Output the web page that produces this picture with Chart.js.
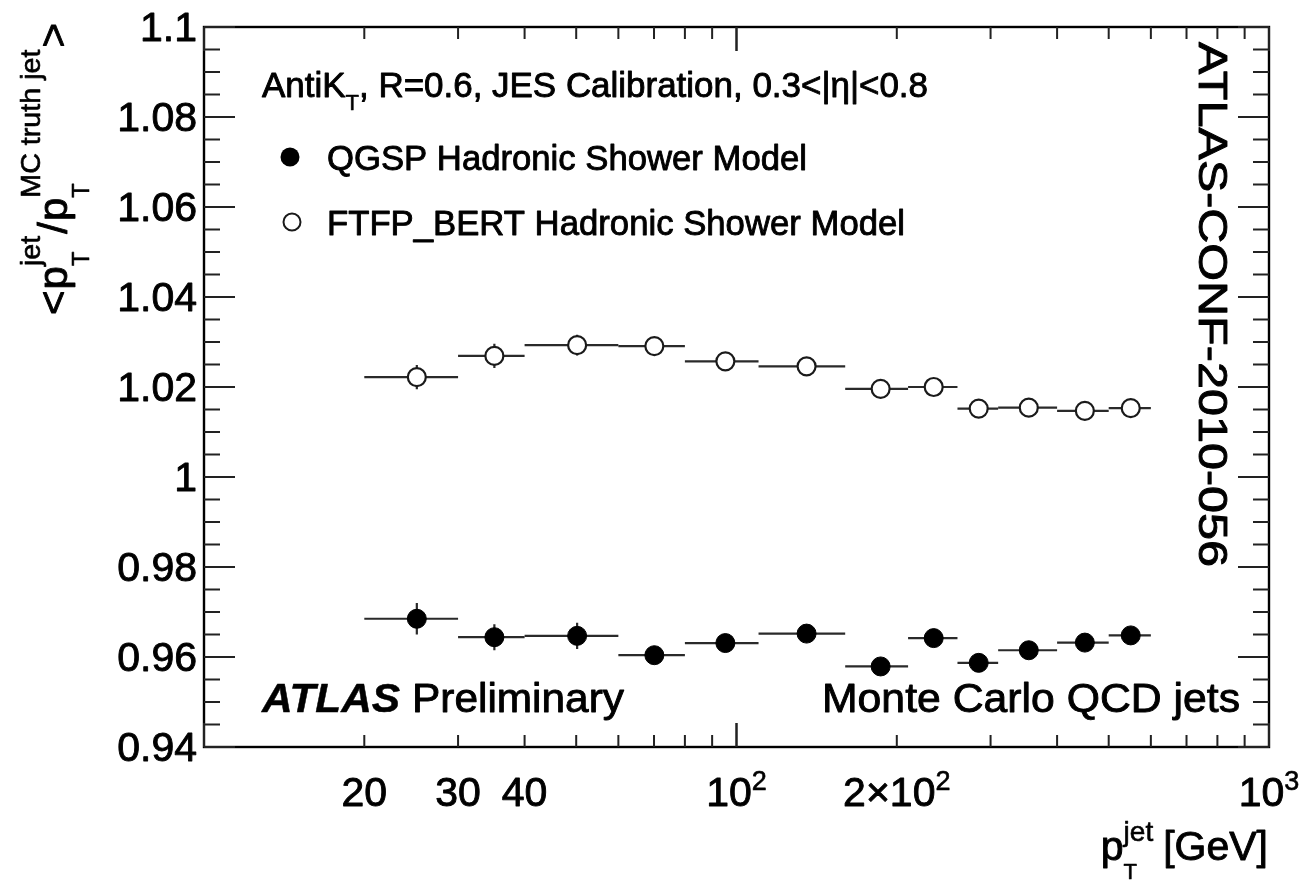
<!DOCTYPE html>
<html>
<head>
<meta charset="utf-8">
<script src="https://cdn.jsdelivr.net/npm/chart.js@4.4.1/dist/chart.umd.min.js"></script>
<style>
html,body{margin:0;padding:0;background:#fff;overflow:hidden}
#wrap{width:1303px;height:880px;position:relative}
</style>
</head>
<body>
<div id="wrap"><canvas id="c" width="1303" height="880"></canvas></div>
<script>
// ---- data ----
const binLow  = [20, 30, 40, 60, 80, 110, 160, 210, 260, 310, 400, 500];
const binHigh = [30, 40, 60, 80, 110, 160, 210, 260, 310, 400, 500, 600];
const ptMean  = [25.1, 35.1, 50.2, 70.1, 95.3, 135.4, 186.5, 234.6, 285, 353.9, 451, 550];
const qgsp    = [0.9685, 0.9644, 0.9647, 0.9604, 0.9631, 0.9652, 0.9579, 0.9642, 0.9587, 0.9615, 0.9632, 0.9648];
const qgspErr = [0.0035, 0.0029, 0.0029, 0.0015, 0.0015, 0.0012, 0.0012, 0.0012, 0.0012, 0.0012, 0.0012, 0.0012];
const ftfp    = [1.0222, 1.0269, 1.0293, 1.0291, 1.0257, 1.0246, 1.0196, 1.0200, 1.0152, 1.0154, 1.0147, 1.0153];
const ftfpErr = [0.0027, 0.0027, 0.0023, 0.0015, 0.0015, 0.0015, 0.0012, 0.0012, 0.0012, 0.0012, 0.0012, 0.0012];
const yTickValues = [0.94, 0.96, 0.98, 1.00, 1.02, 1.04, 1.06, 1.08, 1.10];
const yTickLabels = ['0.94', '0.96', '0.98', '1', '1.02', '1.04', '1.06', '1.08', '1.1'];
const xTickValues = [20, 30, 40, 100, 200, 1000];
const xTickBase   = ['20', '30', '40', '10', '2×10', '10'];
const xTickSup    = ['', '', '', '2', '2', '3'];
const seriesNames = ['QGSP Hadronic Shower Model', 'FTFP_BERT Hadronic Shower Model'];

const FAM = '"Liberation Sans", Arial, Helvetica, sans-serif';

function setFont(ctx, p) {
  ctx.font = `${p.style || 'normal'} ${p.weight || 'normal'} ${p.size}px ${FAM}`;
}
function richWidth(ctx, parts) {
  let w = 0, pend = 0;
  for (const p of parts) {
    setFont(ctx, p);
    const pw = ctx.measureText(p.t).width;
    if (p.hold) { pend = Math.max(pend, pw); }
    else { w += Math.max(pend, pw) + (p.gap || 0); pend = 0; }
  }
  return w;
}
// draws rich text; x,y = anchor baseline; opts: align, rot, targetW
function drawRich(ctx, parts, x, y, opts = {}) {
  const natural = richWidth(ctx, parts);
  const sx = opts.targetW ? opts.targetW / natural : 1;
  const total = natural * sx;
  ctx.save();
  ctx.translate(x, y);
  if (opts.rot) ctx.rotate(opts.rot);
  let off = 0;
  if (opts.align === 'right') off = -total;
  else if (opts.align === 'center') off = -total / 2;
  ctx.translate(off, 0);
  ctx.scale(sx, 1);
  ctx.fillStyle = '#000';
  ctx.strokeStyle = '#000';
  ctx.lineJoin = 'round';
  ctx.textAlign = 'left';
  ctx.textBaseline = 'alphabetic';
  let cx = 0, pend = 0;
  for (const p of parts) {
    setFont(ctx, p);
    const pw = ctx.measureText(p.t).width;
    ctx.fillText(p.t, cx, -(p.rise || 0));
    ctx.lineWidth = p.weight === 'bold' ? 0.5 : (p.size >= 30 ? 0.9 : 0.6);
    ctx.strokeText(p.t, cx, -(p.rise || 0));
    if (p.hold) { pend = Math.max(pend, pw); }
    else { cx += Math.max(pend, pw) + (p.gap || 0); pend = 0; }
  }
  ctx.restore();
}

const errPlugin = {
  id: 'errbars',
  beforeDatasetsDraw(chart) {
    const ctx = chart.ctx, xs = chart.scales.x, ys = chart.scales.y;
    ctx.save();
    ctx.strokeStyle = '#2a2a2a';
    ctx.lineWidth = 2.2;
    const sets = [[qgsp, qgspErr], [ftfp, ftfpErr]];
    for (const [vals, errs] of sets) {
      for (let i = 0; i < vals.length; i++) {
        const xl = xs.getPixelForValue(binLow[i]);
        const xh = xs.getPixelForValue(binHigh[i]);
        const xm = xs.getPixelForValue(ptMean[i]);
        const yv = ys.getPixelForValue(vals[i]);
        const y1 = ys.getPixelForValue(vals[i] + errs[i]);
        const y2 = ys.getPixelForValue(vals[i] - errs[i]);
        ctx.beginPath();
        ctx.moveTo(xl, yv); ctx.lineTo(xh, yv);
        ctx.moveTo(xm, y1); ctx.lineTo(xm, y2);
        ctx.stroke();
      }
    }
    ctx.restore();
  },
  afterDraw(chart) {
    const ctx = chart.ctx, xs = chart.scales.x, ys = chart.scales.y;
    const a = chart.chartArea;
    ctx.save();
    ctx.strokeStyle = '#000';
    ctx.lineWidth = 2.4;
    ctx.strokeRect(a.left, a.top, a.right - a.left, a.bottom - a.top);
    ctx.lineWidth = 2;
    ctx.strokeStyle = '#222';
    // y ticks (left and right)
    for (let k = 0; k <= 32; k++) {
      const v = 0.94 + k * 0.005;
      const yp = ys.getPixelForValue(v);
      const major = (k % 4 === 0);
      const L = major ? 31 : 16;
      ctx.beginPath();
      ctx.moveTo(a.left, yp); ctx.lineTo(a.left + L, yp);
      ctx.moveTo(a.right, yp); ctx.lineTo(a.right - L, yp);
      ctx.stroke();
    }
    // x ticks (bottom and top)
    for (const dec of [10, 100]) {
      for (let m = 1; m <= 10; m++) {
        const v = dec * m;
        const xp = xs.getPixelForValue(v);
        const major = (m === 1 || m === 10);
        const L = major ? 24 : 12;
        ctx.beginPath();
        ctx.moveTo(xp, a.bottom); ctx.lineTo(xp, a.bottom - L);
        ctx.moveTo(xp, a.top); ctx.lineTo(xp, a.top + L);
        ctx.stroke();
      }
    }
    // y tick labels
    for (let i = 0; i < yTickValues.length; i++) {
      const yp = ys.getPixelForValue(yTickValues[i]);
      drawRich(ctx, [{t: yTickLabels[i], size: 41}], 197, yp + 14, {align: 'right'});
    }
    // x tick labels
    for (let i = 0; i < xTickValues.length; i++) {
      const xp = xs.getPixelForValue(xTickValues[i]);
      const parts = [{t: xTickBase[i], size: 41}];
      if (xTickSup[i]) parts.push({t: xTickSup[i], size: 27, rise: 16});
      drawRich(ctx, parts, xp, 806, {align: 'center'});
    }
    // x axis title
    drawRich(ctx, [
      {t: 'p', size: 41},
      {t: 'T', size: 22, rise: -19, hold: true},
      {t: 'jet', size: 28, rise: 19, gap: 10},
      {t: '[GeV]', size: 41}
    ], 1268, 860, {align: 'right'});
    // y axis title (rotated, reading upward)
    drawRich(ctx, [
      {t: '<', size: 41, gap: 1},
      {t: 'p', size: 41},
      {t: 'T', size: 23, rise: -22, hold: true},
      {t: 'jet', size: 28, rise: 27, gap: 2},
      {t: '/', size: 41, gap: 1},
      {t: 'p', size: 41},
      {t: 'T', size: 23, rise: -22, hold: true},
      {t: 'MC truth jet', size: 28, rise: 27, gap: 2},
      {t: '>', size: 41}
    ], 67, 315, {rot: -Math.PI / 2, targetW: 292});
    // header line
    drawRich(ctx, [
      {t: 'AntiK', size: 35},
      {t: 'T', size: 22, rise: -13},
      {t: ', R=0.6, JES Calibration, 0.3<|η|<0.8', size: 35}
    ], 262, 97, {targetW: 666});
    // legend
    const legY = [157, 222];
    const legX = [290, 292];
    ctx.fillStyle = '#000';
    ctx.beginPath(); ctx.arc(legX[0], legY[0], 9.5, 0, Math.PI * 2); ctx.fill();
    ctx.beginPath(); ctx.arc(legX[1], legY[1], 8.5, 0, Math.PI * 2);
    ctx.fillStyle = '#fff'; ctx.fill();
    ctx.lineWidth = 2; ctx.strokeStyle = '#1a1a1a'; ctx.stroke();
    drawRich(ctx, [{t: seriesNames[0], size: 35}], 327, legY[0] + 13, {targetW: 480});
    drawRich(ctx, [{t: seriesNames[1], size: 35}], 327, legY[1] + 13, {targetW: 578});
    // ATLAS Preliminary
    drawRich(ctx, [{t: 'ATLAS', size: 41, weight: 'bold', style: 'italic'}], 262, 712, {targetW: 138});
    drawRich(ctx, [{t: 'Preliminary', size: 41}], 412, 712, {targetW: 212});
    drawRich(ctx, [{t: 'Monte Carlo QCD jets', size: 41}], 1240, 712, {align: 'right', targetW: 418});
    // conference note id, rotated reading downward
    drawRich(ctx, [{t: 'ATLAS-CONF-2010-056', size: 40}], 1199, 42, {rot: Math.PI / 2, targetW: 525});
    ctx.restore();
  }
};

new Chart(document.getElementById('c'), {
  type: 'scatter',
  data: {
    datasets: [
      {
        label: seriesNames[0],
        data: ptMean.map((x, i) => ({x, y: qgsp[i]})),
        pointRadius: 9.5,
        pointBackgroundColor: '#000',
        pointBorderColor: '#000',
        pointBorderWidth: 1,
        showLine: false
      },
      {
        label: seriesNames[1],
        data: ptMean.map((x, i) => ({x, y: ftfp[i]})),
        pointRadius: 9,
        pointBackgroundColor: '#fff',
        pointBorderColor: '#1a1a1a',
        pointBorderWidth: 2.2,
        showLine: false
      }
    ]
  },
  options: {
    responsive: false,
    animation: false,
    devicePixelRatio: 1,
    layout: {padding: {left: 204, right: 34, top: 27, bottom: 133}},
    plugins: {legend: {display: false}, tooltip: {enabled: false}},
    scales: {
      x: {type: 'logarithmic', min: 10, max: 1000,
          ticks: {display: false}, grid: {display: false, drawTicks: false}, border: {display: false}},
      y: {type: 'linear', min: 0.94, max: 1.1,
          ticks: {display: false}, grid: {display: false, drawTicks: false}, border: {display: false}}
    }
  },
  plugins: [errPlugin]
});
</script>
</body>
</html>
